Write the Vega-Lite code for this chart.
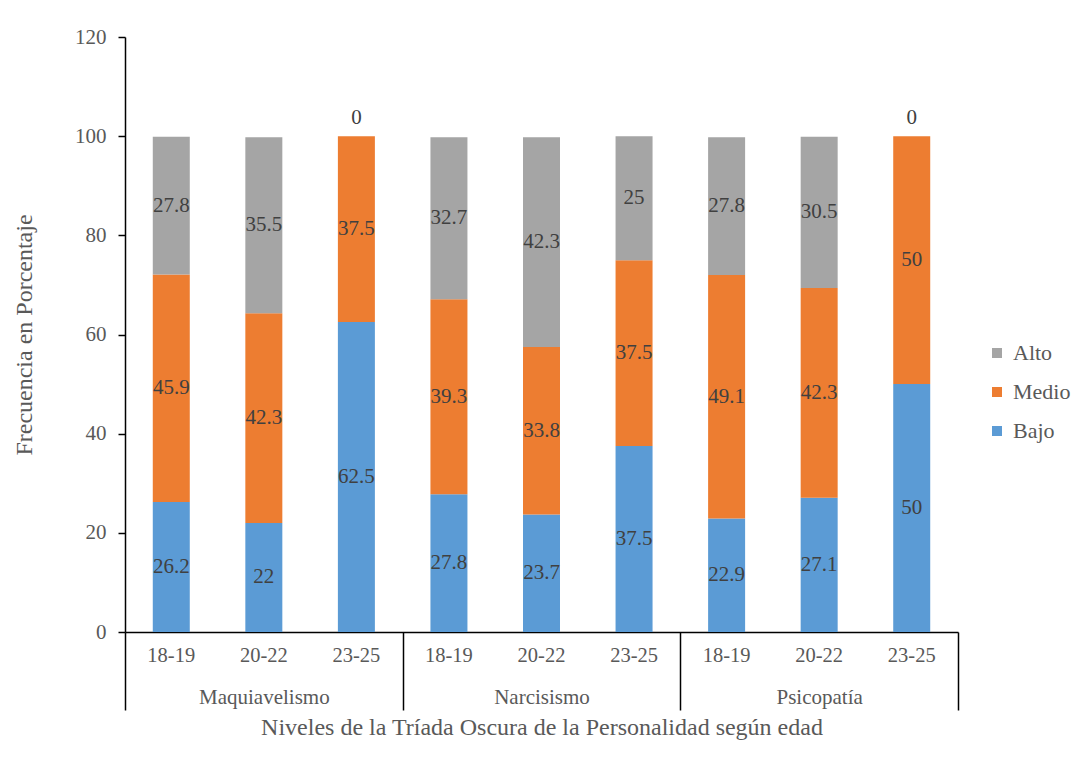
{
  "$schema": "https://vega.github.io/schema/vega-lite/v6.json",
  "autosize": "none",
  "width": 833,
  "height": 595,
  "padding": {"left": 125, "top": 37, "right": 121, "bottom": 133},
  "background": "white",
  "config": {"font": "Liberation Serif", "view": {"stroke": null}, "axis": {"grid": false}},
  "data": {"values": [
    {"grupo": "Maquiavelismo", "edad": "18-19", "barra": "Maquiavelismo 18-19", "nivel": "Bajo", "rango": 1, "valor": 26.2},
    {"grupo": "Maquiavelismo", "edad": "18-19", "barra": "Maquiavelismo 18-19", "nivel": "Medio", "rango": 2, "valor": 45.9},
    {"grupo": "Maquiavelismo", "edad": "18-19", "barra": "Maquiavelismo 18-19", "nivel": "Alto", "rango": 3, "valor": 27.8},
    {"grupo": "Maquiavelismo", "edad": "20-22", "barra": "Maquiavelismo 20-22", "nivel": "Bajo", "rango": 1, "valor": 22},
    {"grupo": "Maquiavelismo", "edad": "20-22", "barra": "Maquiavelismo 20-22", "nivel": "Medio", "rango": 2, "valor": 42.3},
    {"grupo": "Maquiavelismo", "edad": "20-22", "barra": "Maquiavelismo 20-22", "nivel": "Alto", "rango": 3, "valor": 35.5},
    {"grupo": "Maquiavelismo", "edad": "23-25", "barra": "Maquiavelismo 23-25", "nivel": "Bajo", "rango": 1, "valor": 62.5},
    {"grupo": "Maquiavelismo", "edad": "23-25", "barra": "Maquiavelismo 23-25", "nivel": "Medio", "rango": 2, "valor": 37.5},
    {"grupo": "Maquiavelismo", "edad": "23-25", "barra": "Maquiavelismo 23-25", "nivel": "Alto", "rango": 3, "valor": 0},
    {"grupo": "Narcisismo", "edad": "18-19", "barra": "Narcisismo 18-19", "nivel": "Bajo", "rango": 1, "valor": 27.8},
    {"grupo": "Narcisismo", "edad": "18-19", "barra": "Narcisismo 18-19", "nivel": "Medio", "rango": 2, "valor": 39.3},
    {"grupo": "Narcisismo", "edad": "18-19", "barra": "Narcisismo 18-19", "nivel": "Alto", "rango": 3, "valor": 32.7},
    {"grupo": "Narcisismo", "edad": "20-22", "barra": "Narcisismo 20-22", "nivel": "Bajo", "rango": 1, "valor": 23.7},
    {"grupo": "Narcisismo", "edad": "20-22", "barra": "Narcisismo 20-22", "nivel": "Medio", "rango": 2, "valor": 33.8},
    {"grupo": "Narcisismo", "edad": "20-22", "barra": "Narcisismo 20-22", "nivel": "Alto", "rango": 3, "valor": 42.3},
    {"grupo": "Narcisismo", "edad": "23-25", "barra": "Narcisismo 23-25", "nivel": "Bajo", "rango": 1, "valor": 37.5},
    {"grupo": "Narcisismo", "edad": "23-25", "barra": "Narcisismo 23-25", "nivel": "Medio", "rango": 2, "valor": 37.5},
    {"grupo": "Narcisismo", "edad": "23-25", "barra": "Narcisismo 23-25", "nivel": "Alto", "rango": 3, "valor": 25},
    {"grupo": "Psicopatía", "edad": "18-19", "barra": "Psicopatía 18-19", "nivel": "Bajo", "rango": 1, "valor": 22.9},
    {"grupo": "Psicopatía", "edad": "18-19", "barra": "Psicopatía 18-19", "nivel": "Medio", "rango": 2, "valor": 49.1},
    {"grupo": "Psicopatía", "edad": "18-19", "barra": "Psicopatía 18-19", "nivel": "Alto", "rango": 3, "valor": 27.8},
    {"grupo": "Psicopatía", "edad": "20-22", "barra": "Psicopatía 20-22", "nivel": "Bajo", "rango": 1, "valor": 27.1},
    {"grupo": "Psicopatía", "edad": "20-22", "barra": "Psicopatía 20-22", "nivel": "Medio", "rango": 2, "valor": 42.3},
    {"grupo": "Psicopatía", "edad": "20-22", "barra": "Psicopatía 20-22", "nivel": "Alto", "rango": 3, "valor": 30.5},
    {"grupo": "Psicopatía", "edad": "23-25", "barra": "Psicopatía 23-25", "nivel": "Bajo", "rango": 1, "valor": 50},
    {"grupo": "Psicopatía", "edad": "23-25", "barra": "Psicopatía 23-25", "nivel": "Medio", "rango": 2, "valor": 50},
    {"grupo": "Psicopatía", "edad": "23-25", "barra": "Psicopatía 23-25", "nivel": "Alto", "rango": 3, "valor": 0}
  ]},
  "layer": [
    {
      "layer": [
        {
          "mark": {"type": "bar", "size": 37},
          "encoding": {
            "x": {"field": "barra", "type": "nominal", "sort": null,
              "scale": {"paddingInner": 0, "paddingOuter": 0},
              "axis": {"orient": "bottom", "title": null, "domain": true, "domainColor": "black", "domainWidth": 1.5,
                "ticks": false, "labelExpr": "slice(datum.label, -5)", "labelAngle": 0, "labelFontSize": 20.5,
                "labelColor": "#595959", "labelPadding": 13}},
            "y": {"field": "valor", "type": "quantitative", "stack": "zero",
              "scale": {"domain": [0, 120], "nice": false},
              "axis": {"values": [0, 20, 40, 60, 80, 100, 120], "domainColor": "black", "domainWidth": 1.5,
                "tickColor": "black", "tickSize": 7, "tickWidth": 1.5, "labelFontSize": 21, "labelColor": "#595959",
                "labelPadding": 12, "title": "Frecuencia en Porcentaje", "titleFontSize": 24, "titleFontWeight": "normal",
                "titleColor": "#595959", "titlePadding": 38}},
            "order": {"field": "rango", "type": "quantitative", "sort": "ascending"},
            "color": {"field": "nivel", "type": "nominal",
              "scale": {"domain": ["Alto", "Medio", "Bajo"], "range": ["#A5A5A5", "#ED7D31", "#5B9BD5"]},
              "legend": {"orient": "none", "legendX": 861, "legendY": 305, "title": null, "padding": 0,
                "symbolType": "square", "symbolSize": 100, "symbolStrokeWidth": 0,
                "labelFontSize": 22, "labelColor": "#595959", "rowPadding": 17, "labelOffset": 5}}
          }
        },
        {
          "mark": {"type": "text", "fontSize": 21, "color": "#404040"},
          "encoding": {
            "x": {"field": "barra", "type": "nominal", "sort": null},
            "y": {"field": "valor", "type": "quantitative", "stack": "zero", "bandPosition": 0.5},
            "order": {"field": "rango", "type": "quantitative", "sort": "ascending"},
            "detail": {"field": "nivel", "type": "nominal"},
            "text": {"condition": {"test": "datum.valor > 0", "field": "valor", "type": "quantitative"}, "value": ""}
          }
        },
        {
          "mark": {"type": "text", "fontSize": 21, "dy": -18, "color": "#404040"},
          "encoding": {
            "x": {"field": "barra", "type": "nominal", "sort": null},
            "y": {"field": "valor", "type": "quantitative", "stack": "zero", "bandPosition": 0.5},
            "order": {"field": "rango", "type": "quantitative", "sort": "ascending"},
            "detail": {"field": "nivel", "type": "nominal"},
            "text": {"condition": {"test": "datum.valor == 0", "field": "valor", "type": "quantitative"}, "value": ""}
          }
        }
      ]
    },
    {
      "mark": {"type": "rect", "opacity": 0},
      "encoding": {
        "x": {"field": "grupo", "type": "nominal", "sort": null,
          "scale": {"paddingInner": 0, "paddingOuter": 0},
          "axis": {"orient": "bottom", "domain": false, "ticks": true, "tickBand": "extent", "tickSize": 78,
            "tickColor": "black", "tickWidth": 1.5, "labelAngle": 0, "labelFontSize": 21, "labelColor": "#595959",
            "labelPadding": -24, "title": "Niveles de la Tríada Oscura de la Personalidad según edad",
            "titleFontSize": 24, "titleFontWeight": "normal", "titleColor": "#595959", "titlePadding": 5}}
      }
    }
  ],
  "resolve": {"scale": {"x": "independent"}}
}
